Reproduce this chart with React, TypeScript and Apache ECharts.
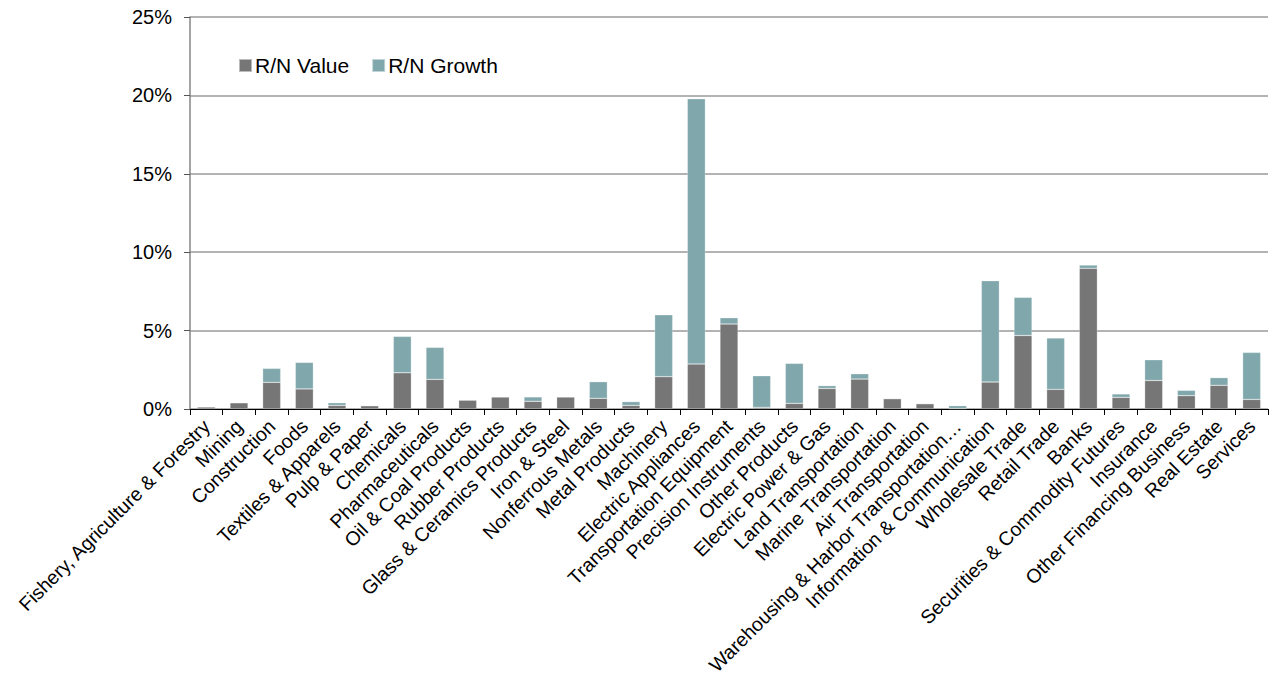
import React, { useEffect, useRef } from "react";
import * as echarts from "echarts";

const categories = [
  "Fishery, Agriculture & Forestry",
  "Mining",
  "Construction",
  "Foods",
  "Textiles & Apparels",
  "Pulp & Paper",
  "Chemicals",
  "Pharmaceuticals",
  "Oil & Coal Products",
  "Rubber Products",
  "Glass & Ceramics Products",
  "Iron & Steel",
  "Nonferrous Metals",
  "Metal Products",
  "Machinery",
  "Electric Appliances",
  "Transportation Equipment",
  "Precision Instruments",
  "Other Products",
  "Electric Power & Gas",
  "Land Transportation",
  "Marine Transportation",
  "Air Transportation",
  "Warehousing & Harbor Transportation\u2026",
  "Information & Communication",
  "Wholesale Trade",
  "Retail Trade",
  "Banks",
  "Securities & Commodity Futures",
  "Insurance",
  "Other Financing Business",
  "Real Estate",
  "Services",
];

// percent units
const rnValue = [
  0.13, 0.4, 1.7, 1.28, 0.23, 0.21, 2.31, 1.89, 0.57, 0.77, 0.49, 0.77, 0.68,
  0.23, 2.06, 2.87, 5.42, 0.1, 0.36, 1.31, 1.91, 0.66, 0.34, 0.03, 1.72, 4.69,
  1.25, 8.97, 0.74, 1.82, 0.85, 1.51, 0.61,
];
const rnGrowth = [
  0.02, 0.0, 0.89, 1.69, 0.17, 0.0, 2.32, 2.04, 0.0, 0.0, 0.28, 0.0, 1.06,
  0.24, 3.95, 16.92, 0.4, 2.02, 2.55, 0.18, 0.34, 0.0, 0.0, 0.18, 6.46, 2.43,
  3.28, 0.21, 0.22, 1.32, 0.34, 0.49, 3.0,
];

const yTicks = { min: 0, max: 25, interval: 5 };

const FONT = "'Liberation Sans', Arial, sans-serif";

export default function App() {
  const ref = useRef<HTMLDivElement>(null);
  useEffect(() => {
    document.body.style.margin = "0";
    const chart = echarts.init(ref.current!, undefined, { renderer: "svg" });
    chart.setOption({
      animation: false,
      backgroundColor: "#ffffff",
      textStyle: { fontFamily: FONT },
      grid: {
        left: 190,
        right: 6,
        top: 17,
        bottom: 266,
        containLabel: false,
        outerBoundsMode: "none",
      },
      legend: {
        left: 233,
        top: 50,
        itemWidth: 13,
        itemHeight: 13,
        itemGap: 22,
        icon: "rect",
        textStyle: { fontSize: 21, color: "#000", fontFamily: FONT, padding: [0, 0, 0, -2] },
        data: ["R/N Value", "R/N Growth"],
      },
      xAxis: {
        type: "category",
        data: categories,
        axisLine: { lineStyle: { color: "#000", width: 1 } },
        axisTick: { show: true, length: 6, lineStyle: { color: "#000" } },
        axisLabel: {
          rotate: 45,
          interval: 0,
          fontSize: 19.5,
          color: "#000",
          fontFamily: FONT,
          margin: 14,
        },
      },
      yAxis: {
        type: "value",
        min: yTicks.min,
        max: yTicks.max,
        interval: yTicks.interval,
        axisLine: { show: true, lineStyle: { color: "#868686", width: 1.5 } },
        axisTick: { show: true, length: 6, lineStyle: { color: "#555" } },
        axisLabel: {
          formatter: "{value}%",
          fontSize: 20,
          color: "#000",
          fontFamily: FONT,
          margin: 18,
        },
        splitLine: { lineStyle: { color: "#9a9a9a", width: 1.5 } },
      },
      series: [
        {
          name: "R/N Value",
          type: "bar",
          stack: "rn",
          barWidth: 18,
          data: rnValue,
          itemStyle: { color: "#767676", borderColor: "rgba(255,255,255,0.5)", borderWidth: 0.5 },
        },
        {
          name: "R/N Growth",
          type: "bar",
          stack: "rn",
          barWidth: 18,
          data: rnGrowth,
          itemStyle: { color: "#80a8ac", borderColor: "rgba(255,255,255,0.5)", borderWidth: 0.5 },
        },
      ],
    });
    return () => chart.dispose();
  }, []);
  return (
    <div
      ref={ref}
      style={{ width: 1274, height: 675, position: "absolute", left: 0, top: 0 }}
    />
  );
}
